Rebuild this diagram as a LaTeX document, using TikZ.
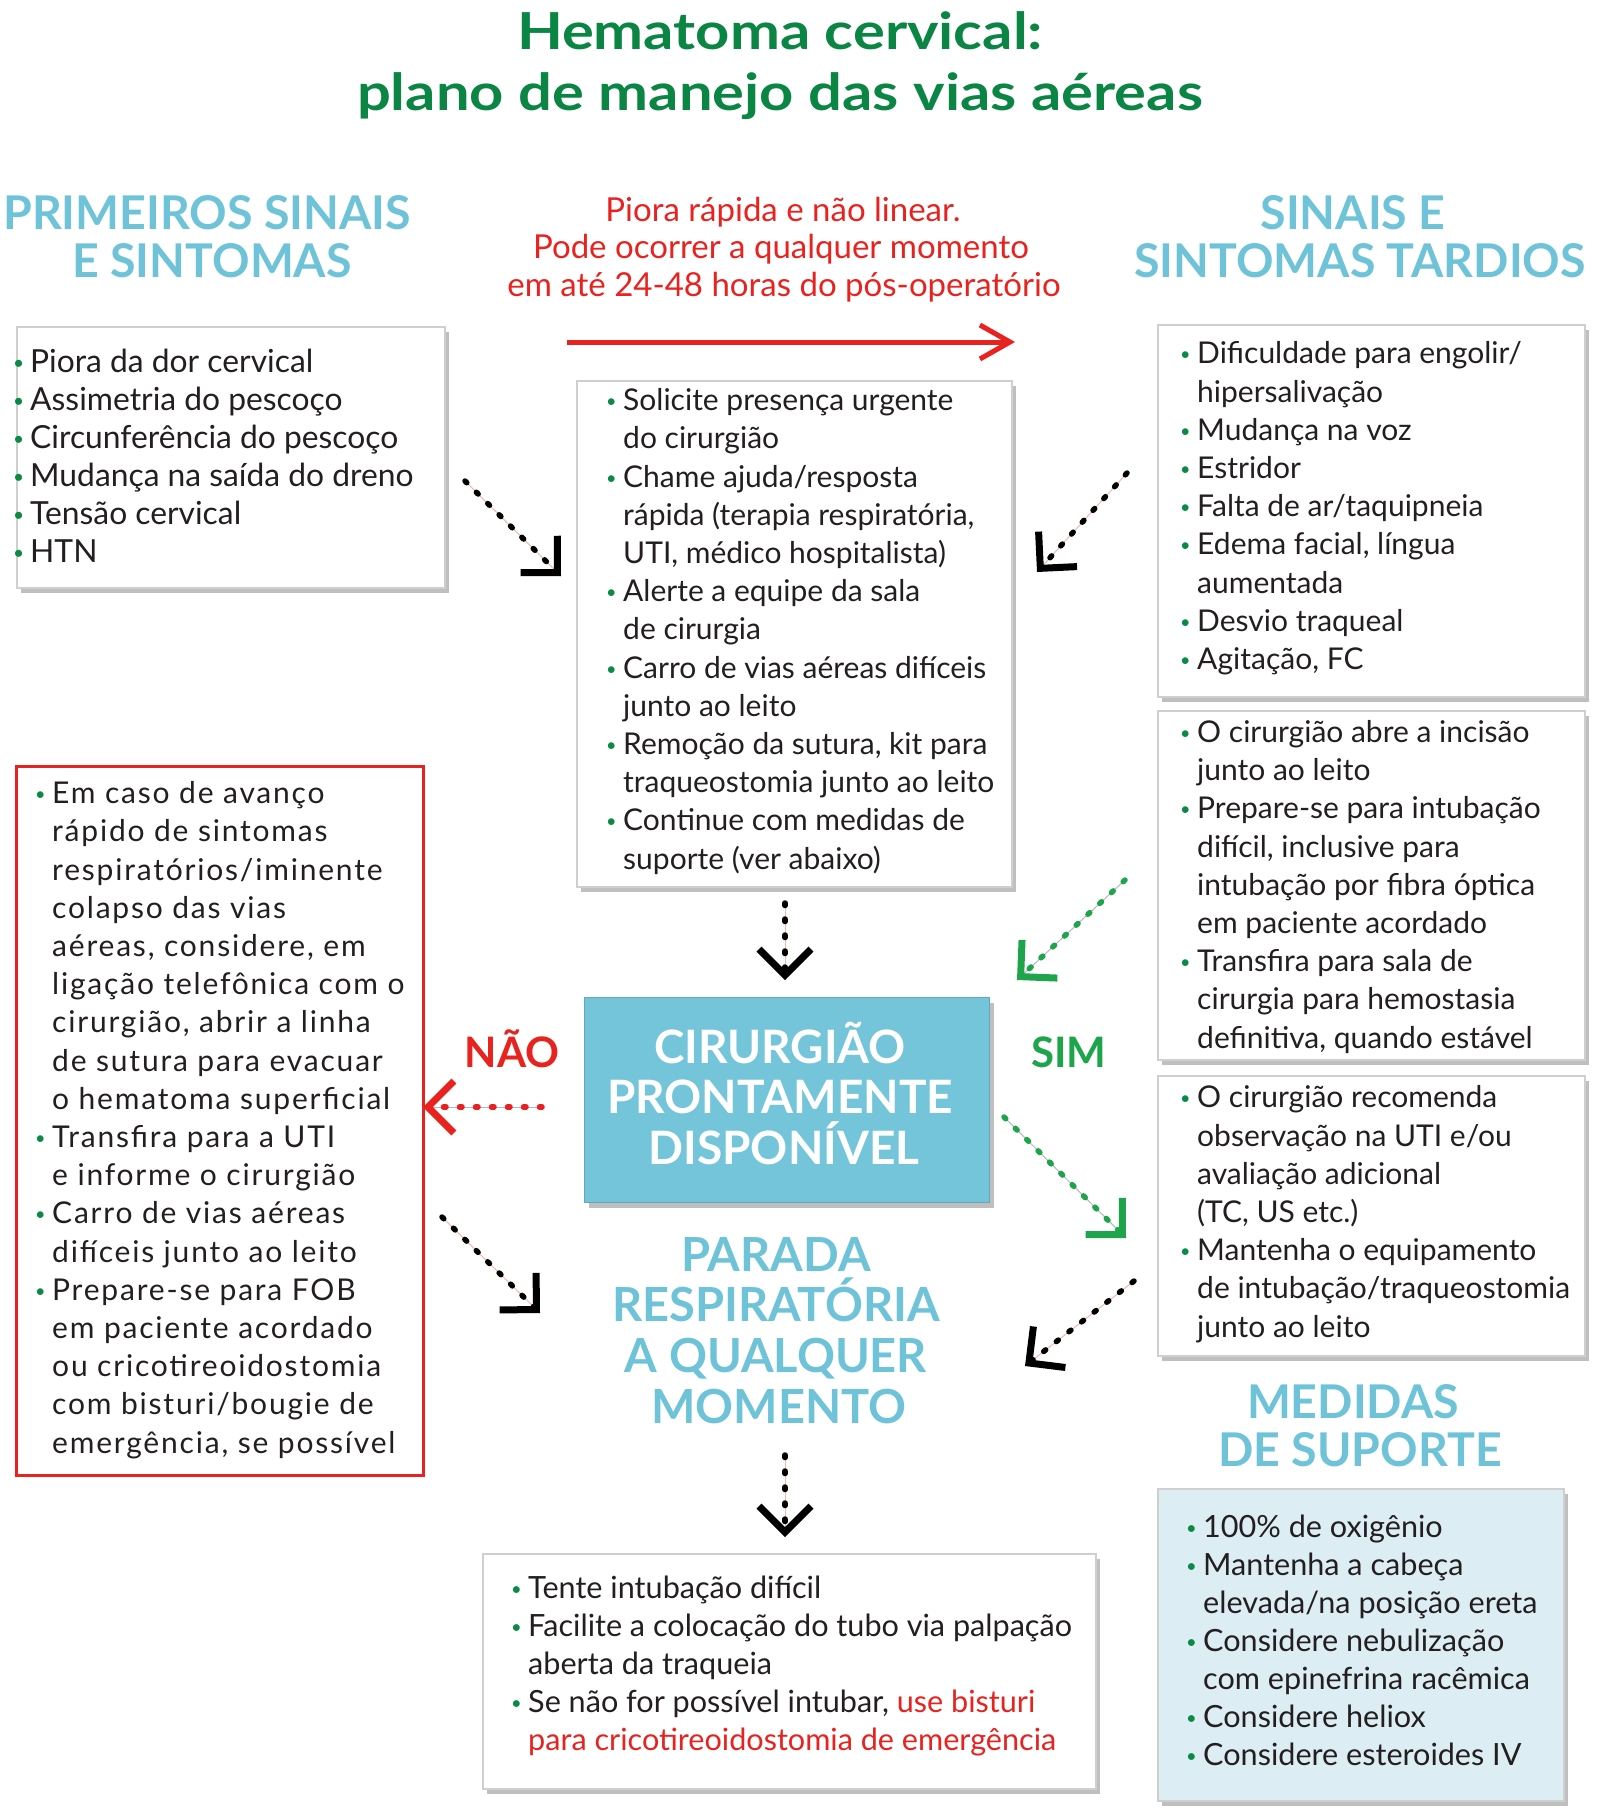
\documentclass[tikz,border=0pt]{standalone}
\usepackage{graphicx}
\usepackage{fontspec}
\setmainfont{Lato}
\usetikzlibrary{arrows.meta,shadows}
\definecolor{tgreen}{HTML}{0B8543}
\definecolor{bgreen}{HTML}{0B8A45}
\definecolor{sgreen}{HTML}{1EA54B}
\definecolor{cyanh}{HTML}{6EC3D8}
\definecolor{cyanbox}{HTML}{74C5DA}
\definecolor{rred}{HTML}{E8231F}
\definecolor{supfill}{HTML}{DCEDF3}
\definecolor{txt}{HTML}{231F20}
\definecolor{boxline}{HTML}{CFCFCF}
\definecolor{pinkline}{HTML}{F2B9A6}
\definecolor{greyline}{HTML}{B8B8B8}
\newcommand\bul{\makebox[17pt][l]{\textcolor{bgreen}{\raisebox{3pt}{\scalebox{0.6}{•}}}}}
\newcommand\ind{\hspace*{17pt}}
\begin{document}
\begin{tikzpicture}[x=1pt,y=-1pt,
  every node/.style={inner sep=0pt, text=txt},
  listtext/.style={anchor=base west, align=left, font=\fontsize{30}{38.2}\selectfont},
  wbox/.style={draw=boxline, line width=2pt, fill=white, anchor=north west, inner sep=0pt,
     drop shadow={shadow xshift=4pt, shadow yshift=-5pt, fill=black, opacity=0.25}},
  title/.style={anchor=base, font=\fontsize{51}{58}\selectfont\bfseries\addfontfeatures{FakeStretch=1.17}, text=tgreen},
  head/.style={anchor=base, font=\fontsize{46.5}{48}\selectfont\bfseries, text=cyanh},
  redtxt/.style={anchor=base, font=\fontsize{33}{38}\selectfont, text=rred},
  boxtxt/.style={anchor=base, font=\fontsize{46}{50}\selectfont\bfseries, text=white},
  yesno/.style={anchor=base, font=\fontsize{42}{46}\selectfont\bfseries},
  dotbase/.style={line width=5.5pt, line cap=round, dash pattern=on 2.5pt off 13.5pt,
     -{Straight Barb[length=26pt,width=52pt,line width=7pt]}},
  dotblack/.style={dotbase, draw=black, preaction={draw=pinkline, line width=1pt, solid, -}},
  dotgreen/.style={dotbase, draw=sgreen, preaction={draw=greyline, line width=1pt, solid, -}},
  dotred/.style={dotbase, draw=rred, preaction={draw=greyline, line width=1pt, solid, -}},
]
\useasboundingbox (0,0) rectangle (1600,1815);

% title
\node[title] (title1) at (780,49) {Hematoma cervical:};
\node[title] (title2) at (780,110) {plano de manejo das vias aéreas};

% headings
\node[head] (h1a) at (207,229) {PRIMEIROS SINAIS};
\node[head] (h1b) at (212,277) {E SINTOMAS};
\node[head] (h2a) at (1353,229) {SINAIS E};
\node[head] (h2b) at (1360,277) {SINTOMAS TARDIOS};

% red note
\node[redtxt] (r1) at (783,221) {Piora rápida e não linear.};
\node[redtxt] (r2) at (781,258) {Pode ocorrer a qualquer momento};
\node[redtxt] (r3) at (784,296) {em até 24-48 horas do pós-operatório};
\coordinate (rs) at (567,342);
\coordinate (re) at (1015,342);
\draw[rred, line width=5pt, -{Straight Barb[length=30pt,width=34pt,line width=5pt]}] (rs) -- (re);

% box 1
\node[wbox, minimum width=428pt, minimum height=261pt] (b1) at (16,326) {};
\node[listtext, font=\fontsize{31.8}{38}\selectfont] (t1) at (13,562.7) {\bul Piora da dor cervical\\
\bul Assimetria do pescoço\\
\bul Circunferência do pescoço\\
\bul Mudança na saída do dreno\\
\bul Tensão cervical\\
\bul HTN};

% center box
\node[wbox, minimum width=435pt, minimum height=506pt] (b2) at (576,380) {};
\node[listtext] (t2) at (606,869) {\bul Solicite presença urgente\\
\ind do cirurgião\\
\bul Chame ajuda/resposta\\
\ind rápida (terapia respiratória,\\
\ind UTI, médico hospitalista)\\
\bul Alerte a equipe da sala\\
\ind de cirurgia\\
\bul Carro de vias aéreas difíceis\\
\ind junto ao leito\\
\bul Remoção da sutura, kit para\\
\ind traqueostomia junto ao leito\\
\bul Continue com medidas de\\
\ind suporte (ver abaixo)};

% right top box
\node[wbox, minimum width=427pt, minimum height=372pt] (b3) at (1157,324) {};
\node[listtext] (t3) at (1180,669.5) {\bul Dificuldade para engolir/\\
\ind hipersalivação\\
\bul Mudança na voz\\
\bul Estridor\\
\bul Falta de ar/taquipneia\\
\bul Edema facial, língua\\
\ind aumentada\\
\bul Desvio traqueal\\
\bul Agitação, FC};

% right middle box
\node[wbox, minimum width=427pt, minimum height=349pt] (b4) at (1157,710) {};
\node[listtext] (t4) at (1180,1048) {\bul O cirurgião abre a incisão\\
\ind junto ao leito\\
\bul Prepare-se para intubação\\
\ind difícil, inclusive para\\
\ind intubação por fibra óptica\\
\ind em paciente acordado\\
\bul Transfira para sala de\\
\ind cirurgia para hemostasia\\
\ind definitiva, quando estável};

% right lower box
\node[wbox, minimum width=427pt, minimum height=280pt] (b5) at (1157,1075) {};
\node[listtext] (t5) at (1180,1337) {\bul O cirurgião recomenda\\
\ind observação na UTI e/ou\\
\ind avaliação adicional\\
\ind (TC, US etc.)\\
\bul Mantenha o equipamento\\
\ind de intubação/traqueostomia\\
\ind junto ao leito};

% red box
\node[draw=rred, line width=3pt, fill=white, anchor=north west, minimum width=407pt, minimum height=709pt] (b6) at (15,765) {};
\node[listtext, font=\fontsize{30}{38.2}\selectfont\addfontfeatures{LetterSpace=6}] (t6) at (35,1453) {\bul Em caso de avanço\\
\ind rápido de sintomas\\
\ind respiratórios/iminente\\
\ind colapso das vias\\
\ind aéreas, considere, em\\
\ind ligação telefônica com o\\
\ind cirurgião, abrir a linha\\
\ind de sutura para evacuar\\
\ind o hematoma superficial\\
\bul Transfira para a UTI\\
\ind e informe o cirurgião\\
\bul Carro de vias aéreas\\
\ind difíceis junto ao leito\\
\bul Prepare-se para FOB\\
\ind em paciente acordado\\
\ind ou cricotireoidostomia\\
\ind com bisturi/bougie de\\
\ind emergência, se possível};

% cyan decision box
\node[fill=cyanbox, draw=cyanbox!85!black, line width=1pt, anchor=north west, minimum width=405pt, minimum height=205pt,
   drop shadow={shadow xshift=4pt, shadow yshift=-5pt, fill=black, opacity=0.25}] (b7) at (584,997) {};
\node[boxtxt] (c1) at (780,1063) {CIRURGIÃO};
\node[boxtxt] (c2) at (780,1113) {PRONTAMENTE};
\node[boxtxt] (c3) at (784,1164) {DISPONÍVEL};

\node[yesno, text=rred] (nao) at (512,1067) {NÃO};
\node[yesno, text=sgreen] (sim) at (1069,1067) {SIM};

% parada
\node[head, font=\fontsize{47}{50}\selectfont\bfseries] (p1) at (776,1271) {PARADA};
\node[head, font=\fontsize{47}{50}\selectfont\bfseries] (p2) at (776,1321) {RESPIRATÓRIA};
\node[head, font=\fontsize{47}{50}\selectfont\bfseries] (p3) at (776,1372) {A QUALQUER};
\node[head, font=\fontsize{47}{50}\selectfont\bfseries] (p4) at (779,1423) {MOMENTO};

% bottom box
\node[wbox, minimum width=613pt, minimum height=235pt] (b8) at (482,1553) {};
\node[listtext, font=\fontsize{30.6}{38}\selectfont] (t8) at (511,1750) {\bul Tente intubação difícil\\
\bul Facilite a colocação do tubo via palpação\\
\ind aberta da traqueia\\
\bul Se não for possível intubar, \textcolor{rred}{use bisturi}\\
\ind \textcolor{rred}{para cricotireoidostomia de emergência}};

% support measures
\node[head] (m1) at (1353,1418) {MEDIDAS};
\node[head] (m2) at (1360,1466) {DE SUPORTE};
\node[wbox, fill=supfill, minimum width=406pt, minimum height=312pt] (b9) at (1157,1488) {};
\node[listtext, font=\fontsize{30.6}{38}\selectfont] (t9) at (1186,1765) {\bul 100\% de oxigênio\\
\bul Mantenha a cabeça\\
\ind elevada/na posição ereta\\
\bul Considere nebulização\\
\ind com epinefrina racêmica\\
\bul Considere heliox\\
\bul Considere esteroides IV};

% arrows
\coordinate (a1s) at (465,481);  \coordinate (a1e) at (561,576);
\coordinate (a2s) at (1127,473); \coordinate (a2e) at (1037,572);
\coordinate (a3s) at (785,903);  \coordinate (a3e) at (785,980);
\coordinate (a4s) at (1125,880); \coordinate (a4e) at (1017,980);
\coordinate (a5s) at (1004,1117);\coordinate (a5e) at (1126,1238);
\coordinate (a6s) at (442,1217); \coordinate (a6e) at (540,1313);
\coordinate (a7s) at (1134,1281);\coordinate (a7e) at (1025,1366);
\coordinate (a8s) at (785,1455); \coordinate (a8e) at (785,1537);
\coordinate (a9s) at (542,1107); \coordinate (a9e) at (423,1107);

\draw[dotblack] (a1s) -- (a1e);
\draw[dotblack] (a2s) -- (a2e);
\draw[dotblack] (a3s) -- (a3e);
\draw[dotgreen] (a4s) -- (a4e);
\draw[dotgreen] (a5s) -- (a5e);
\draw[dotblack] (a6s) -- (a6e);
\draw[dotblack] (a7s) -- (a7e);
\draw[dotblack] (a8s) -- (a8e);
\draw[dotred] (a9s) -- (a9e);
\end{tikzpicture}
\end{document}
